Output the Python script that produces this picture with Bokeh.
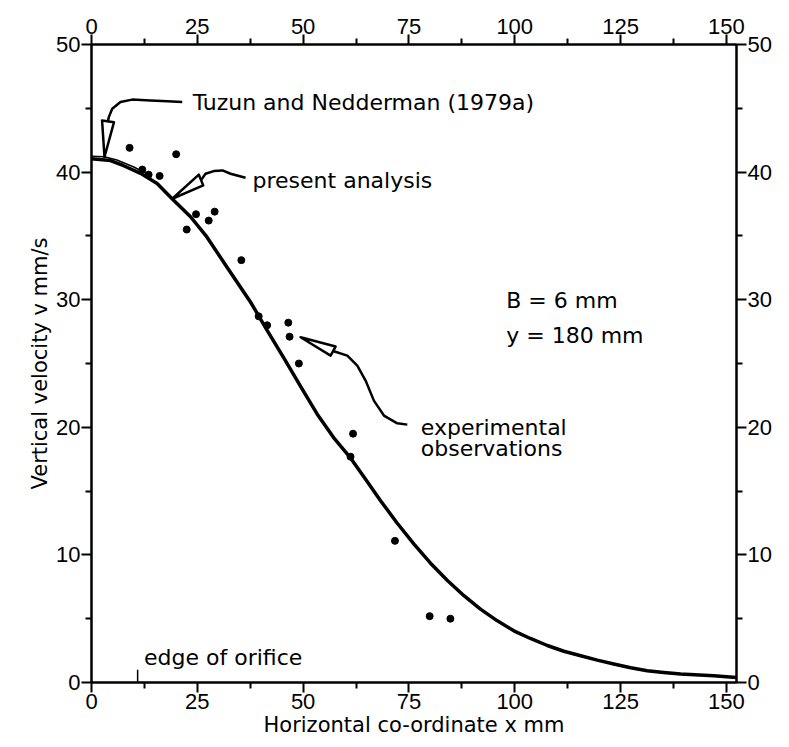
from bokeh.plotting import figure
from bokeh.models import LinearAxis, Range1d, FixedTicker, Label
from bokeh.embed import file_html
from bokeh.resources import INLINE

# ---- data ----
# present analysis (theory curve)
curve_x = [0, 4.5, 7.6, 11.6, 15.5, 19.1, 23.4, 27.3, 32.1, 37.6, 41.5, 45.5, 49.4, 53.3, 57.2, 61.2,
           64.8, 68.3, 72.2, 76.2, 80.1, 84.1, 88.0, 91.9, 95.8, 99.8, 103.7, 107.7, 111.6, 115.6,
           119.5, 123.4, 127.4, 131.3, 135.2, 139.2, 147.0, 152.4]
curve_v = [41.05, 40.9, 40.5, 39.9, 39.1, 37.9, 36.5, 34.9, 32.5, 29.8, 27.6, 25.4, 23.2, 21.05, 19.2, 17.6,
           15.9, 14.25, 12.5, 10.85, 9.35, 8.0, 6.8, 5.75, 4.85, 4.05, 3.45, 2.9, 2.45, 2.1,
           1.75, 1.45, 1.15, 0.92, 0.78, 0.66, 0.53, 0.4]
# Tuzun and Nedderman (1979a) – visible only near the axis
tuzun_x = [0, 3, 6, 10, 14]
tuzun_v = [41.25, 41.2, 40.95, 40.4, 39.7]
# experimental observations
obs_x = [9.0, 20.0, 12.0, 13.5, 16.1, 24.7, 29.1, 27.7, 22.5, 35.4, 39.5, 41.5,
         46.5, 46.8, 49.0, 61.8, 61.2, 71.7, 79.9, 84.8]
obs_v = [41.9, 41.4, 40.2, 39.8, 39.7, 36.7, 36.9, 36.2, 35.5, 33.1, 28.7, 28.0,
         28.2, 27.1, 25.0, 19.5, 17.7, 11.1, 5.2, 5.0]
# axis ticks
x_major = [0, 25, 50, 75, 100, 125, 150]
x_minor = [12.5, 37.5, 62.5, 87.5, 112.5, 137.5]
y_major = [0, 10, 20, 30, 40, 50]
y_minor = [5, 15, 25, 35, 45]
x_max = 152.4
y_max = 50
orifice_edge_x = 10.9

# ---- annotation geometry (data units) ----
tz_tri_x = [3.07, 2.5, 5.3]
tz_tri_y = [41.18, 44.05, 43.9]
tz_tail_x = [3.9, 4.09, 4.89, 6.85, 9.62, 13.94, 17.89, 21.44]
tz_tail_y = [43.98, 44.31, 44.97, 45.49, 45.68, 45.62, 45.55, 45.49]

pa_tri_x = [19.08, 25.36, 26.40]
pa_tri_y = [37.91, 39.80, 38.96]
pa_tail_x = [25.88, 26.94, 28.91, 30.96, 32.85, 36.40]
pa_tail_y = [39.37, 39.87, 40.08, 40.13, 39.87, 39.56]

ex_tri_x = [49.40, 57.67, 56.49]
ex_tri_y = [27.06, 26.33, 25.62]
ex_tail_x = [57.08, 60.44, 62.80, 64.76, 66.72, 69.09, 72.25, 74.62]
ex_tail_y = [25.98, 25.62, 24.84, 23.66, 22.09, 20.92, 20.31, 20.21]

ANN_FONT = "DejaVu Sans"
TICK_FONT = "Liberation Sans"

p = figure(width=789, height=747, x_range=Range1d(0, x_max), y_range=Range1d(0, y_max),
           output_backend="svg", toolbar_location=None,
           x_axis_location=None, y_axis_location=None,
           min_border_left=91, min_border_right=53, min_border_top=44, min_border_bottom=65)
p.grid.visible = False
p.outline_line_color = "black"
p.outline_line_width = 2
p.background_fill_color = "white"
p.border_fill_color = "white"

bottom_axis = LinearAxis(axis_label="Horizontal co-ordinate x mm")
left_axis = LinearAxis(axis_label="Vertical velocity v mm/s")
top_axis = LinearAxis()
right_axis = LinearAxis()
p.add_layout(bottom_axis, "below")
p.add_layout(left_axis, "left")
p.add_layout(top_axis, "above")
p.add_layout(right_axis, "right")


def style_axis(ax, major, minor):
    ax.ticker = FixedTicker(ticks=major, minor_ticks=minor)
    ax.axis_line_color = "black"
    ax.axis_line_width = 2
    ax.major_tick_in = 0
    ax.major_tick_out = 10
    ax.minor_tick_in = 0
    ax.minor_tick_out = 6
    ax.major_tick_line_color = "black"
    ax.minor_tick_line_color = "black"
    ax.major_tick_line_width = 2
    ax.minor_tick_line_width = 2
    ax.major_label_text_font = TICK_FONT
    ax.major_label_text_font_size = "22px"
    ax.major_label_text_color = "black"
    ax.major_label_standoff = 1
    ax.axis_label_text_font = ANN_FONT
    ax.axis_label_text_font_size = "21px"
    ax.axis_label_text_font_style = "normal"
    ax.axis_label_text_color = "black"
    ax.axis_label_standoff = 1


style_axis(bottom_axis, x_major, x_minor)
style_axis(top_axis, x_major, x_minor)
style_axis(left_axis, y_major, y_minor)
style_axis(right_axis, y_major, y_minor)

# curves and observations
p.line(curve_x, curve_v, line_color="black", line_width=3.5, line_join="round")
p.line(tuzun_x, tuzun_v, line_color="black", line_width=1.5)
p.scatter(obs_x, obs_v, size=7, marker="circle", fill_color="black", line_color="black")

# edge of orifice marker
p.segment(x0=[orifice_edge_x], y0=[0], x1=[orifice_edge_x], y1=[1.0],
          line_color="black", line_width=1.5)

# arrows (hollow pointers with curly tails)
for tx, ty, lx, ly in [(tz_tri_x, tz_tri_y, tz_tail_x, tz_tail_y),
                       (pa_tri_x, pa_tri_y, pa_tail_x, pa_tail_y),
                       (ex_tri_x, ex_tri_y, ex_tail_x, ex_tail_y)]:
    p.patch(tx, ty, fill_color="white", line_color="black", line_width=2.5, line_join="round")
    p.line(lx, ly, line_color="black", line_width=2.5, line_join="round")


def add_label(x, y, txt):
    p.add_layout(Label(x=x, y=y, text=txt, text_font=ANN_FONT, text_font_size="22px",
                       text_color="black", text_baseline="middle", text_align="left"))


add_label(23.9, 45.44, "Tuzun and Nedderman (1979a)")
add_label(38.05, 39.35, "present analysis")
add_label(77.8, 20.0, "experimental")
add_label(77.8, 18.3, "observations")
add_label(98.0, 29.9, "B  =  6  mm")
add_label(98.0, 27.2, "y  =  180  mm")
add_label(12.4, 1.96, "edge of orifice")

open("out.html", "w").write(file_html(p, INLINE))
